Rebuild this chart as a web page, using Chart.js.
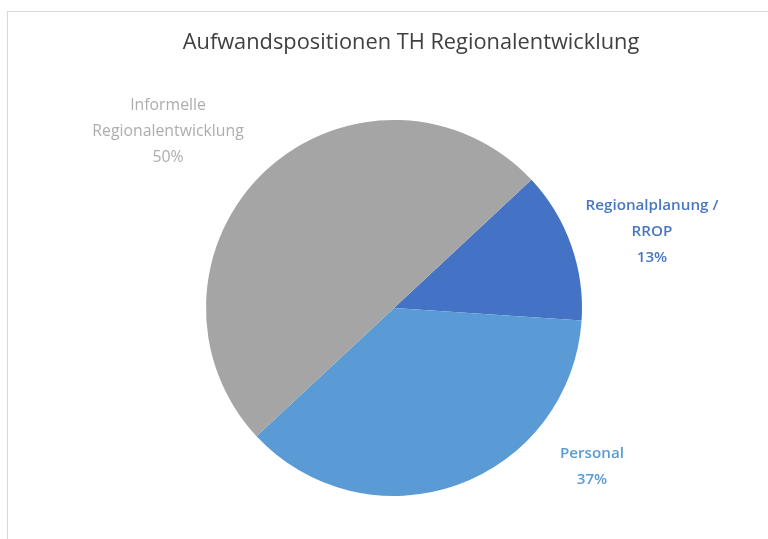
<!DOCTYPE html>
<html>
<head>
<meta charset="utf-8">
<script src="https://cdn.jsdelivr.net/npm/chart.js@4"></script>
<style>
  html, body { margin: 0; padding: 0; background: #fff; overflow: hidden; }
  .frame {
    position: absolute; left: 7px; top: 11px;
    width: 806px; height: 560px;
    border: 1px solid #d9d9d9;
  }
  .frame canvas { display: block; }
</style>
</head>
<body>
<div class="frame">
  <canvas id="pie" width="806" height="560"></canvas>
</div>
<script>
const chartTitle = "Aufwandspositionen TH Regionalentwicklung";
const categories = ["Regionalplanung / RROP", "Personal", "Informelle Regionalentwicklung"];
const shares = [13, 37, 50];
const sliceColors = ["#4472C4", "#5B9BD5", "#A5A5A5"];
const labelColors = ["#4A78C0", "#5B9BD5", "#ADADAD"];

// label lines (Excel style wrapping)
const labelLines = [
  ["Regionalplanung /", "RROP"],
  ["Personal"],
  ["Informelle", "Regionalentwicklung"],
];

const FONT = "'Open Sans', 'Noto Sans', sans-serif";

// draws title centered on canvas
const titlePlugin = {
  id: "excelTitle",
  afterDraw(chart) {
    const ctx = chart.ctx;
    ctx.save();
    ctx.font = "21.8px " + FONT;
    ctx.fillStyle = "#404040";
    ctx.textAlign = "center";
    ctx.textBaseline = "middle";
    ctx.fillText(chartTitle, chart.width / 2, 31);
    ctx.restore();
  },
};

// outside labels, placed relative to pie center in units of radius
const labelPlugin = {
  id: "outsideLabels",
  afterDatasetsDraw(chart, args, opts) {
    const ctx = chart.ctx;
    const meta = chart.getDatasetMeta(0);
    const total = shares.reduce((a, b) => a + b, 0);
    meta.data.forEach((arc, i) => {
      const r = arc.outerRadius;
      const pos = opts.anchors[i];
      const cx = arc.x + pos[0] * r;
      const cy = arc.y + pos[1] * r;
      const lines = labelLines[i].concat([Math.round(shares[i] / total * 100) + "%"]);
      ctx.save();
      ctx.font = opts.bold[i] ? "600 15.2px " + FONT : "15.8px " + FONT;
      ctx.fillStyle = labelColors[i];
      ctx.textAlign = "center";
      ctx.textBaseline = "middle";
      const lh = 26;
      const y0 = cy - (lines.length - 1) * lh / 2;
      lines.forEach((t, k) => ctx.fillText(t, cx, y0 + k * lh));
      ctx.restore();
    });
  },
};

new Chart(document.getElementById("pie"), {
  type: "pie",
  data: {
    labels: categories,
    datasets: [{
      data: shares,
      backgroundColor: sliceColors,
      borderWidth: 0,
      hoverOffset: 0,
    }],
  },
  options: {
    responsive: false,
    animation: false,
    rotation: 47,
    layout: { padding: { left: 198, right: 232, top: 108, bottom: 76 } },
    plugins: {
      legend: { display: false },
      tooltip: { enabled: false },
      outsideLabels: {
        anchors: [[1.372, -0.407], [1.053, 0.846], [-1.202, -0.941]],
        bold: [true, true, false],
      },
    },
  },
  plugins: [titlePlugin, labelPlugin],
});
</script>
</body>
</html>
